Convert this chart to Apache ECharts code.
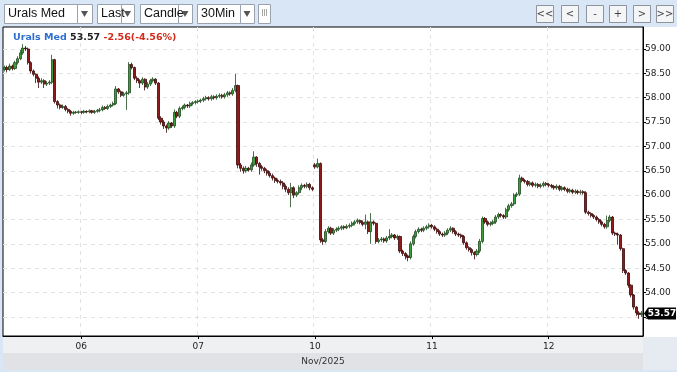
<!DOCTYPE html>
<html><head><meta charset="utf-8">
<script src="https://cdn.jsdelivr.net/npm/echarts@6/dist/echarts.min.js"></script>
<style>html,body{margin:0;padding:0;background:#d8e6f6;overflow:hidden}#c{width:677px;height:372px}</style>
</head><body><div id="c"></div>
<script>
// session days and candles per day (30-min bars)
const dayNames = ['05','06','07','10','11','12'];
const dayFirstSlot = [15, 0, 0, 0, 0, 0];   // slot index of first bar (slot 0 = 01:00)
const dayBarCount = [29, 44, 44, 44, 44, 36];
const yTickValues = [53.5,54.0,54.5,55.0,55.5,56.0,56.5,57.0,57.5,58.0,58.5,59.0];
const instrument = 'Urals Med';
const lastPrice = 53.57;
const changeText = '-2.56(-4.56%)';
const monthLabel = 'Nov/2025';

const opens = [
58.58,58.62,58.58,58.65,58.60,58.72,58.80,58.92,59.02,59.00,
58.72,58.55,58.48,58.40,58.32,58.35,58.28,58.30,58.32,58.78,
57.92,57.85,57.80,57.82,57.76,57.72,57.68,57.70,57.70,57.71,
57.70,57.72,57.71,57.73,57.70,57.72,57.74,57.75,57.80,57.78,
57.82,57.85,57.88,58.18,58.12,58.05,58.08,58.10,58.68,58.62,
58.40,58.35,58.30,58.38,58.22,58.28,58.35,58.38,58.30,57.58,
57.50,57.42,57.38,57.48,57.42,57.70,57.62,57.78,57.80,57.85,
57.83,57.88,57.90,57.92,57.93,57.95,57.98,58.00,57.98,58.02,
58.00,58.03,58.05,58.02,58.06,58.10,58.08,58.15,58.25,56.62,
56.55,56.50,56.55,56.52,56.62,56.78,56.65,56.58,56.55,56.50,
56.45,56.40,56.35,56.30,56.28,56.25,56.18,56.12,56.05,56.15,
56.00,56.05,56.15,56.20,56.18,56.22,56.15,56.62,56.58,56.65,
55.08,55.05,55.25,55.32,55.22,55.28,55.30,55.32,55.35,55.33,
55.36,55.38,55.42,55.45,55.48,55.44,55.40,55.45,55.25,55.45,
55.42,55.05,55.08,55.10,55.06,55.12,55.15,55.18,55.12,55.15,
54.85,54.80,54.75,54.72,55.00,55.15,55.25,55.30,55.28,55.32,
55.35,55.38,55.35,55.30,55.25,55.20,55.18,55.22,55.28,55.32,
55.25,55.20,55.18,55.15,55.02,54.92,54.88,54.82,54.78,54.85,
55.05,55.52,55.45,55.40,55.42,55.45,55.55,55.60,55.58,55.55,
55.70,55.78,55.82,56.00,56.02,56.35,56.30,56.28,56.22,56.25,
56.20,56.22,56.18,56.20,56.24,56.22,56.20,56.18,56.15,56.18,
56.12,56.15,56.12,56.08,56.10,56.06,56.08,56.05,56.07,56.05,
55.65,55.62,55.58,55.55,55.50,55.45,55.40,55.35,55.48,55.55,
55.22,55.20,55.18,54.90,54.45,54.40,54.15,53.95,53.70,53.58,
53.55];
const closes = [
58.62,58.58,58.65,58.60,58.72,58.80,58.92,59.02,59.00,58.72,
58.55,58.48,58.40,58.32,58.35,58.28,58.30,58.32,58.78,57.92,
57.85,57.80,57.82,57.76,57.72,57.68,57.70,57.70,57.71,57.70,
57.72,57.71,57.73,57.70,57.72,57.74,57.75,57.80,57.78,57.82,
57.85,57.88,58.18,58.12,58.05,58.08,58.10,58.68,58.62,58.40,
58.35,58.30,58.38,58.22,58.28,58.35,58.38,58.30,57.58,57.50,
57.42,57.38,57.48,57.42,57.70,57.62,57.78,57.80,57.85,57.83,
57.88,57.90,57.92,57.93,57.95,57.98,58.00,57.98,58.02,58.00,
58.03,58.05,58.02,58.06,58.10,58.08,58.15,58.25,56.62,56.55,
56.50,56.55,56.52,56.62,56.78,56.65,56.58,56.55,56.50,56.45,
56.40,56.35,56.30,56.28,56.25,56.18,56.12,56.05,56.15,56.00,
56.05,56.15,56.20,56.18,56.22,56.15,56.12,56.58,56.65,55.08,
55.05,55.25,55.32,55.22,55.28,55.30,55.32,55.35,55.33,55.36,
55.38,55.42,55.45,55.48,55.44,55.40,55.45,55.25,55.45,55.42,
55.05,55.08,55.10,55.06,55.12,55.15,55.18,55.12,55.15,54.85,
54.80,54.75,54.72,55.00,55.15,55.25,55.30,55.28,55.32,55.35,
55.38,55.35,55.30,55.25,55.20,55.18,55.22,55.28,55.32,55.25,
55.20,55.18,55.15,55.02,54.92,54.88,54.82,54.78,54.85,55.05,
55.52,55.45,55.40,55.42,55.45,55.55,55.60,55.58,55.55,55.70,
55.78,55.82,56.00,56.02,56.35,56.30,56.28,56.22,56.25,56.20,
56.22,56.18,56.20,56.24,56.22,56.20,56.18,56.15,56.18,56.12,
56.15,56.12,56.08,56.10,56.06,56.08,56.05,56.07,56.05,55.65,
55.62,55.58,55.55,55.50,55.45,55.40,55.35,55.48,55.55,55.22,
55.20,55.18,54.90,54.45,54.40,54.15,53.95,53.70,53.58,53.55,
53.57];
const highs = [
58.66,58.66,58.70,58.68,58.76,58.85,58.98,59.10,59.06,59.03,
58.75,58.58,58.50,58.44,58.40,58.38,58.34,58.36,58.88,58.80,
57.95,57.88,57.86,57.85,57.79,57.75,57.73,57.73,57.74,57.73,
57.75,57.74,57.76,57.75,57.75,57.77,57.79,57.84,57.83,57.86,
57.88,57.92,58.24,58.20,58.15,58.12,58.14,58.73,58.72,58.64,
58.44,58.38,58.42,58.40,58.32,58.39,58.42,58.40,58.32,57.62,
57.54,57.45,57.52,57.50,57.76,57.73,57.82,57.84,57.88,57.87,
57.92,57.93,57.95,57.96,57.98,58.02,58.04,58.03,58.06,58.05,
58.07,58.09,58.08,58.10,58.14,58.13,58.20,58.49,58.27,56.66,
56.59,56.60,56.58,56.67,56.90,56.80,56.68,56.62,56.58,56.54,
56.49,56.44,56.38,56.34,56.32,56.29,56.22,56.16,56.25,56.18,
56.08,56.20,56.24,56.23,56.26,56.25,56.18,56.66,56.75,56.67,
55.12,55.30,55.36,55.35,55.32,55.34,55.36,55.38,55.38,55.40,
55.42,55.46,55.49,55.52,55.50,55.48,55.60,55.48,55.63,55.48,
55.44,55.12,55.14,55.13,55.16,55.30,55.22,55.20,55.19,55.17,
54.88,54.83,54.78,55.05,55.19,55.29,55.34,55.33,55.36,55.39,
55.42,55.41,55.38,55.33,55.28,55.23,55.26,55.32,55.36,55.34,
55.28,55.23,55.21,55.18,55.05,54.95,54.91,54.85,54.89,55.10,
55.56,55.55,55.48,55.46,55.49,55.59,55.64,55.63,55.61,55.74,
55.82,55.86,56.04,56.06,56.42,56.38,56.33,56.31,56.29,56.28,
56.26,56.25,56.24,56.28,56.27,56.25,56.23,56.21,56.22,56.21,
56.19,56.18,56.15,56.14,56.13,56.12,56.11,56.11,56.10,56.08,
55.68,55.65,55.61,55.58,55.53,55.48,55.43,55.58,55.59,55.57,
55.25,55.23,55.20,54.92,54.48,54.42,54.17,53.97,53.72,53.62,
53.62];
const lows = [
58.54,58.52,58.55,58.56,58.57,58.68,58.77,58.88,58.96,58.68,
58.50,58.44,58.30,58.20,58.28,58.20,58.24,58.26,58.28,57.88,
57.78,57.76,57.77,57.72,57.68,57.63,57.65,57.67,57.67,57.66,
57.67,57.68,57.68,57.67,57.67,57.69,57.70,57.72,57.75,57.75,
57.79,57.82,57.85,58.08,58.01,58.02,57.75,58.06,58.58,58.36,
58.30,58.20,58.26,58.15,58.18,58.24,58.31,58.26,57.54,57.45,
57.36,57.28,57.34,57.38,57.38,57.58,57.58,57.74,57.76,57.79,
57.79,57.84,57.86,57.88,57.89,57.91,57.94,57.94,57.94,57.96,
57.96,57.99,57.98,57.98,58.02,58.04,58.04,58.11,56.55,56.48,
56.44,56.46,56.48,56.48,56.58,56.58,56.42,56.50,56.45,56.40,
56.36,56.30,56.25,56.24,56.20,56.12,56.06,56.00,55.75,55.94,
55.96,56.01,56.10,56.14,56.14,56.10,56.08,56.54,56.55,55.02,
54.98,55.01,55.21,55.18,55.18,55.24,55.26,55.28,55.29,55.30,
55.32,55.34,55.38,55.41,55.40,55.36,55.30,55.20,55.00,55.38,
55.00,55.01,55.04,55.02,55.02,55.08,55.11,55.08,55.08,54.81,
54.75,54.68,54.64,54.68,54.96,55.11,55.21,55.24,55.24,55.28,
55.31,55.31,55.26,55.21,55.16,55.14,55.14,55.18,55.24,55.21,
55.16,55.14,55.11,54.98,54.88,54.84,54.76,54.68,54.74,54.81,
55.01,55.41,55.36,55.36,55.38,55.41,55.51,55.54,55.51,55.51,
55.66,55.74,55.78,55.96,55.98,56.26,56.24,56.18,56.18,56.16,
56.16,56.14,56.14,56.16,56.18,56.16,56.14,56.11,56.11,56.08,
56.08,56.08,56.04,56.04,56.02,56.02,56.01,56.01,56.01,55.61,
55.58,55.54,55.51,55.46,55.41,55.36,55.31,55.31,55.44,55.18,
55.16,54.98,54.86,54.40,54.36,54.10,53.90,53.65,53.52,53.46,
53.50];

// build category labels (session slots from 01:00, 30-min steps)
const categories = [];
dayNames.forEach((d, k) => {
  for (let s = 0; s < dayBarCount[k]; s++) {
    const slot = dayFirstSlot[k] + s;
    const mins = 60 + slot * 30;
    const hh = String(Math.floor(mins / 60)).padStart(2, '0');
    const mm = String(mins % 60).padStart(2, '0');
    categories.push(d + ' ' + hh + ':' + mm);
  }
});
const candleData = opens.map((o, i) => [o, closes[i], lows[i], highs[i]]);
const isDayStart = (idx, val) => /01:00$/.test(val);

const FONT = 'DejaVu Sans';
const chart = echarts.init(document.getElementById('c'), null, {renderer: 'canvas'});

function tb(x, w, text) {
  return [
    {type: 'rect', shape: {x: x + 0.5, y: 4.5, width: w, height: 19}, style: {fill: '#fff', stroke: '#9aa3ad', lineWidth: 1}, z: 10},
    {type: 'text', x: x + 4, y: 14, style: {text: text, font: '12.5px "Liberation Sans", Arial', fill: '#111', verticalAlign: 'middle'}, z: 11}
  ];
}
function arrowBox(x, w) {
  return [
    {type: 'rect', shape: {x: x + 0.5, y: 4.5, width: w, height: 19}, style: {fill: '#fff', stroke: '#9aa3ad', lineWidth: 1}, z: 10},
    {type: 'polygon', shape: {points: [[x + w/2 - 3.5, 11], [x + w/2 + 3.5, 11], [x + w/2, 17]]}, style: {fill: '#555'}, z: 11}
  ];
}
function btn(x, label) {
  return [
    {type: 'rect', shape: {x: x + 0.5, y: 5.5, width: 17, height: 17}, style: {fill: '#f4f5f7', stroke: '#8d949c', lineWidth: 1}, z: 10},
    {type: 'text', x: x + 9, y: 14, style: {text: label, font: '10px "DejaVu Sans"', fill: '#444', align: 'center', verticalAlign: 'middle'}, z: 11}
  ];
}

const graphics = [
  {type: 'rect', shape: {x: 3, y: 27, width: 674, height: 310}, style: {fill: '#fff'}, z: -10},
  {type: 'rect', shape: {x: 3, y: 337, width: 640, height: 16}, style: {fill: '#eff0f2'}, z: -10},
  {type: 'rect', shape: {x: 3, y: 353, width: 640, height: 17}, style: {fill: '#e1e2e5'}, z: -10},
  {type: 'rect', shape: {x: 643, y: 337, width: 34, height: 33}, style: {fill: '#e6ebf1'}, z: -10},
  {type: 'text', x: 323, y: 362, style: {text: monthLabel, font: '9px "DejaVu Sans"', fill: '#333', align: 'center', verticalAlign: 'middle'}, z: 5},
  {type: 'text', x: 13, y: 38, z: 20, style: {
    text: '{a|' + instrument + '} {b|' + lastPrice.toFixed(2) + '} {c|' + changeText + '}',
    verticalAlign: 'middle',
    rich: {
      a: {font: 'bold 9.5px "DejaVu Sans"', fill: '#2f6fd0'},
      b: {font: 'bold 9.5px "DejaVu Sans"', fill: '#222'},
      c: {font: 'bold 9.5px "DejaVu Sans"', fill: '#d42a1a'}
    }}},
  ...tb(4, 73, instrument), ...arrowBox(77, 15),
  ...tb(97, 24, 'Last'), ...arrowBox(121, 13),
  ...tb(140, 38, 'Candle'), ...arrowBox(178, 14),
  ...tb(197, 43, '30Min'), ...arrowBox(240, 14),
  {type: 'rect', shape: {x: 258.5, y: 4.5, width: 12, height: 19}, style: {fill: '#fff', stroke: '#9aa3ad', lineWidth: 1}, z: 10},
  {type: 'text', x: 264.5, y: 14, style: {text: 'lll', font: '8px "DejaVu Sans"', fill: '#888', align: 'center', verticalAlign: 'middle'}, z: 11},
  ...btn(536, '<<'), ...btn(561, '<'), ...btn(586, '-'), ...btn(609, '+'), ...btn(633, '>'), ...btn(656, '>>')
];

const option = {
  backgroundColor: '#d8e6f6',
  animation: false,
  grid: {left: 3, right: 34, top: 27, bottom: 36, show: true, borderColor: '#000', borderWidth: 1, backgroundColor: '#fff', containLabel: false},
  xAxis: {
    type: 'category', data: categories, boundaryGap: true,
    axisLine: {show: true, lineStyle: {color: '#000'}},
    axisTick: {show: true, interval: isDayStart, alignWithLabel: true, length: 3, lineStyle: {color: '#000'}},
    axisLabel: {interval: isDayStart, formatter: v => v.slice(0, 2), fontFamily: FONT, fontSize: 9, color: '#222', margin: 6},
    splitLine: {show: true, interval: isDayStart, lineStyle: {color: '#e2e2e2', type: [4, 4]}}
  },
  yAxis: {
    type: 'value', position: 'right', min: 53.107, max: 59.452, scale: true,
    axisLine: {show: true, lineStyle: {color: '#000'}},
    axisTick: {show: true, length: 3, inside: false, customValues: yTickValues, lineStyle: {color: '#000'}},
    axisLabel: {customValues: yTickValues, formatter: v => Number(v).toFixed(2), fontFamily: FONT, fontSize: 9, color: '#222', margin: 2},
    splitLine: {show: true, lineStyle: {color: '#e2e2e2', type: [4, 4]}}
  },
  series: [{
    type: 'candlestick', data: candleData, barWidth: 2.6,
    itemStyle: {color: '#3a9e3a', color0: '#8e1a1a', borderColor: '#1f4a1f', borderColor0: '#3a0a0a', borderWidth: 0.8}
  }],
  graphic: graphics
};
chart.setOption(option);

const py = chart.convertToPixel({yAxisIndex: 0}, lastPrice);
chart.setOption({graphic: graphics.concat([
  {type: 'polygon', shape: {points: [[644, py], [648, py - 6], [676, py - 6], [676, py + 6], [648, py + 6]]}, style: {fill: '#000'}, z: 30},
  {type: 'text', x: 662, y: py, style: {text: lastPrice.toFixed(2), font: 'bold 9px "DejaVu Sans"', fill: '#fff', align: 'center', verticalAlign: 'middle'}, z: 31}
])});
</script></body></html>
